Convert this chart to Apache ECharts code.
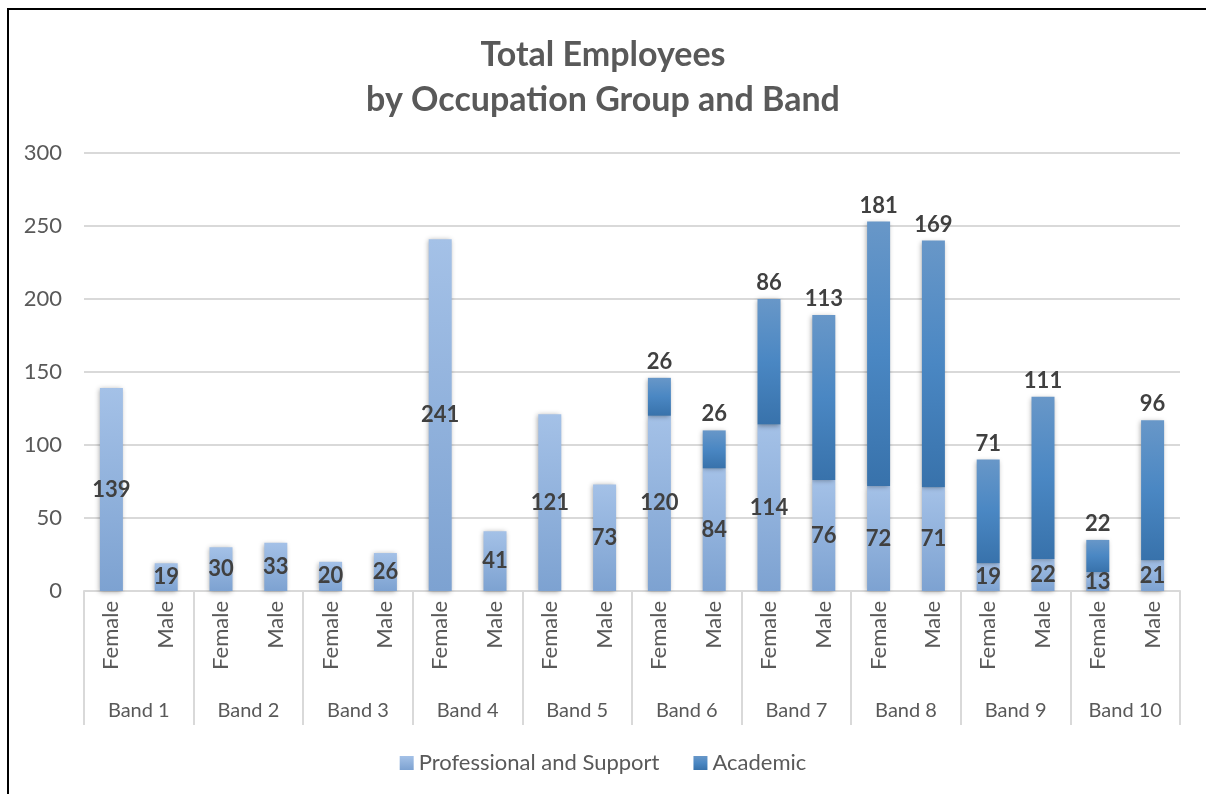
<!DOCTYPE html>
<html>
<head>
    <meta charset="utf-8">
    <script src="https://cdn.jsdelivr.net/npm/echarts@6/dist/echarts.min.js"></script>
    <style>
        body { margin: 0; background: #fff; }
        #main { position: absolute; left: 0; top: 0; width: 1206px; height: 794px; }
        #frame { position: absolute; left: 7px; top: 8px; width: 1199px; height: 786px;
                 border-left: 2px solid #000; border-top: 2px solid #000; pointer-events: none; z-index: 5; }
    </style>
</head>
<body>
<div id="main"></div>
<div id="frame"></div>
<script type="text/javascript">

// categories
var genders = ['Female', 'Male', 'Female', 'Male', 'Female', 'Male', 'Female', 'Male', 'Female', 'Male',
               'Female', 'Male', 'Female', 'Male', 'Female', 'Male', 'Female', 'Male', 'Female', 'Male'];
var bands = ['Band 1', 'Band 2', 'Band 3', 'Band 4', 'Band 5', 'Band 6', 'Band 7', 'Band 8', 'Band 9', 'Band 10'];

// series values (null = no academic staff in that column)
var profSupport = [139, 19, 30, 33, 20, 26, 241, 41, 121, 73, 120, 84, 114, 76, 72, 71, 19, 22, 13, 21];
var academic = [null, null, null, null, null, null, null, null, null, null, 26, 26, 86, 113, 181, 169, 71, 111, 22, 96];

var yTicks = [0, 50, 100, 150, 200, 250, 300];

var font = 'Lato, "Noto Sans", sans-serif';
var txt = '#595959';

var lightGrad = new echarts.graphic.LinearGradient(0, 0, 0, 1, [
    { offset: 0, color: '#a4c1e7' },
    { offset: 1, color: '#7da2d1' }
]);
var darkGrad = new echarts.graphic.LinearGradient(0, 0, 0, 1, [
    { offset: 0, color: '#6897c8' },
    { offset: 0.5, color: '#4a87c3' },
    { offset: 1, color: '#3872ab' }
]);

var labelStyle = {
    show: true,
    fontFamily: font,
    fontWeight: 'bold',
    fontSize: 22,
    color: '#404040'
};

var option = {
    animation: false,
    backgroundColor: '#fff',
    title: {
        text: 'Total Employees\nby Occupation Group and Band',
        left: 'center',
        top: 28,
        textStyle: {
            fontFamily: font,
            fontWeight: 'bold',
            fontSize: 34,
            lineHeight: 45,
            color: txt
        }
    },
    legend: {
        data: ['Professional and Support', 'Academic'],
        top: 747,
        left: 'center',
        itemWidth: 14,
        itemHeight: 14,
        itemGap: 34,
        icon: 'rect',
        textStyle: { fontFamily: font, fontSize: 22, color: txt }
    },
    grid: { left: 84, right: 26, top: 153, bottom: 203 },
    xAxis: [{
        type: 'category',
        data: genders,
        axisLine: { lineStyle: { color: '#d9d9d9', width: 2 } },
        axisTick: { show: false },
        axisLabel: {
            interval: 0,
            rotate: 90,
            margin: 10,
            fontFamily: font,
            fontSize: 22,
            color: txt
        }
    }, {
        type: 'category',
        data: bands,
        position: 'bottom',
        axisLine: { show: false },
        axisTick: { show: true, length: 134, lineStyle: { color: '#d9d9d9', width: 2 } },
        axisLabel: {
            interval: 0,
            margin: 110,
            fontFamily: font,
            fontSize: 20,
            color: txt
        }
    }],
    yAxis: {
        type: 'value',
        min: 0,
        max: yTicks[yTicks.length - 1],
        interval: 50,
        axisLine: { show: false },
        axisTick: { show: false },
        splitLine: { lineStyle: { color: '#d9d9d9', width: 2 } },
        axisLabel: {
            margin: 22,
            fontFamily: font,
            fontSize: 22,
            color: txt
        }
    },
    series: [{
        name: 'Professional and Support',
        type: 'bar',
        stack: 'total',
        barWidth: 23,
        data: profSupport,
        itemStyle: {
            color: lightGrad,
            shadowBlur: 5,
            shadowColor: 'rgba(0,0,0,0.35)',
            shadowOffsetX: -1,
            shadowOffsetY: 1
        },
        label: Object.assign({ position: 'inside' }, labelStyle)
    }, {
        name: 'Academic',
        type: 'bar',
        stack: 'total',
        barWidth: 23,
        data: academic,
        itemStyle: {
            color: darkGrad,
            shadowBlur: 5,
            shadowColor: 'rgba(0,0,0,0.35)',
            shadowOffsetX: -1,
            shadowOffsetY: 1
        },
        label: Object.assign({ position: 'top', distance: 5 }, labelStyle)
    }]
};

var myChart = echarts.init(document.getElementById('main'));
myChart.setOption(option);

</script>
</body>
</html>
